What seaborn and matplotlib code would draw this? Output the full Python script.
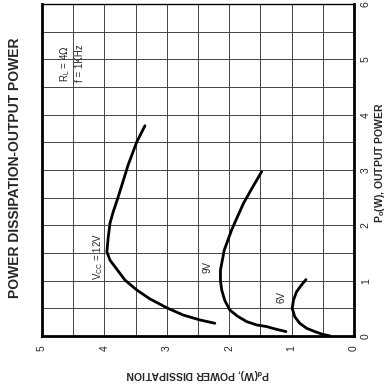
import matplotlib
matplotlib.use("Agg")
import matplotlib.pyplot as plt
import numpy as np
import pandas as pd
import seaborn as sns

# Power dissipation vs. output power, R_L = 4 ohm, f = 1 kHz
po_12v = [3.80, 3.51, 3.09, 2.51, 2.24, 2.04, 1.77, 1.52, 1.37, 1.25, 1.01, 0.83, 0.67, 0.51, 0.38, 0.29, 0.23]
pd_12v = [3.35, 3.48, 3.62, 3.78, 3.86, 3.91, 3.94, 3.96, 3.91, 3.83, 3.67, 3.48, 3.27, 3.00, 2.74, 2.47, 2.23]

po_9v = [2.97, 2.68, 2.40, 2.15, 1.92, 1.55, 1.19, 1.00, 0.83, 0.64, 0.47, 0.36, 0.26, 0.20, 0.17, 0.12, 0.08]
pd_9v = [1.48, 1.63, 1.77, 1.87, 1.96, 2.08, 2.14, 2.14, 2.12, 2.07, 1.99, 1.87, 1.72, 1.56, 1.40, 1.24, 1.09]

po_6v = [1.02, 0.91, 0.80, 0.65, 0.50, 0.35, 0.23, 0.14, 0.08, 0.03, 0.00]
pd_6v = [0.77, 0.85, 0.92, 0.97, 0.99, 0.95, 0.87, 0.76, 0.63, 0.50, 0.38]

pd_ticks = [0, 1, 2, 3, 4, 5]
po_ticks = [0, 1, 2, 3, 4, 5, 6]

frames = []
for name, po, pdv in [("12V", po_12v, pd_12v), ("9V", po_9v, pd_9v), ("6V", po_6v, pd_6v)]:
    frames.append(pd.DataFrame({"Po": po, "Pd": pdv, "Vcc": name}))
data = pd.concat(frames, ignore_index=True)

sns.set_style("white")
plt.rcParams["font.family"] = ["Liberation Sans", "DejaVu Sans"]

fig = plt.figure(figsize=(3.87, 3.84), dpi=100)
ax = fig.add_axes([42 / 387, 1 - 336 / 384, (354 - 42) / 387, (336 - 4) / 384])

# The sheet is printed turned a quarter turn: Pd runs horizontally (reversed), Po vertically
for name in ["12V", "9V", "6V"]:
    sub = data[data["Vcc"] == name]
    sns.lineplot(data=sub, x="Pd", y="Po", sort=False, estimator=None,
                 color="black", linewidth=2.0, ax=ax, legend=False)
for line in ax.lines:
    line.set_solid_capstyle("round")
    line.set_solid_joinstyle("round")

ax.set_xlim(5, 0)
ax.set_ylim(0, 6)
ax.set_xticks(np.arange(0, 5.01, 0.5))
ax.set_yticks(np.arange(0, 6.01, 0.5))
ax.grid(True, color="#444444", linewidth=0.7)
ax.tick_params(length=0, labelbottom=False, labelleft=False)
ax.set_xlabel("")
ax.set_ylabel("")
for side, lw in [("left", 2.0), ("bottom", 2.0), ("right", 2.0), ("top", 1.0)]:
    ax.spines[side].set_visible(True)
    ax.spines[side].set_color("black")
    ax.spines[side].set_linewidth(lw)

# Tick labels, turned with the sheet
for v in pd_ticks:
    ax.text(v, -0.22, str(v), rotation=90, ha="center", va="center",
            fontsize=7.5, transform=ax.transData, clip_on=False)
for v in po_ticks:
    ax.text(-0.19, v, str(v), rotation=90, ha="center", va="center",
            fontsize=7.5, transform=ax.transData, clip_on=False)

# Axis titles
fig.text(198 / 387, 1 - 374 / 384, r"P$_\mathregular{d}$(W), POWER DISSIPATION",
         rotation=180, ha="center", va="center", fontsize=7.5, fontweight="bold")
fig.text(380 / 387, 1 - 163 / 384, r"P$_\mathregular{o}$(W), OUTPUT POWER",
         rotation=90, ha="center", va="center", fontsize=7.5, fontweight="bold")
fig.text(15 / 387, 1 - 168 / 384, "POWER DISSIPATION-OUTPUT POWER",
         rotation=90, ha="center", va="center", fontsize=10, fontweight="bold")

# Curve annotations
ax.text(4.63, 4.59, r"R$_\mathregular{L}$ = 4$\Omega$", rotation=90, rotation_mode="anchor",
        ha="left", va="center", fontsize=7)
ax.text(4.39, 4.59, "f = 1KHz", rotation=90, rotation_mode="anchor",
        ha="left", va="center", fontsize=7)
ax.text(4.10, 1.01, r"V$_\mathregular{CC}$ = 12V", rotation=90, rotation_mode="anchor",
        ha="left", va="center", fontsize=7)
ax.text(2.34, 1.25, "9V", rotation=90, ha="center", va="center", fontsize=7)
ax.text(1.16, 0.71, "6V", rotation=90, ha="center", va="center", fontsize=7)

fig.savefig("out.png", dpi=100)
